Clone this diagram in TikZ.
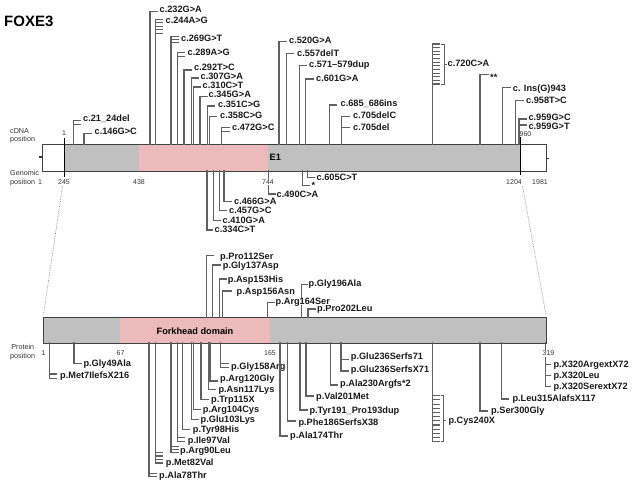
\documentclass[tikz,border=0pt]{standalone}
\usepackage{fontspec}
\setmainfont{Liberation Sans}
\newcommand{\Mut}[9]{\draw[mline] (#2,#3) -- (#2,#4);\foreach \t in {#5}{\draw[mline] (#2,\t) -- (#6,\t);}\node[mlab] (#1) at (#7,#8) {#9};}
\begin{document}
\begin{tikzpicture}[x=1pt,y=-1pt,
  mline/.style={draw=black!62, line width=1.1pt, line cap=rect},
  thinl/.style={draw=black!62, line width=0.6pt},
  mlab/.style={anchor=west, inner sep=0pt, text height=6.6pt, text depth=0pt, font=\bfseries\fontsize{9.2}{10}\selectfont, text=black!90},
  small/.style={inner sep=0pt, font=\fontsize{7}{8}\selectfont, text=black!80},
  sidelab/.style={anchor=north west, inner sep=0pt, align=left, font=\fontsize{7.2}{8.6}\selectfont, text=black!80},
  barline/.style={draw=black!75, line width=0.9pt},
  marker/.style={draw=black, line width=0.8pt},
  dotl/.style={draw=black!45, densely dotted, line width=0.7pt}]
\useasboundingbox (0,0) rectangle (635,488);
\definecolor{bargray}{RGB}{192,192,192}
\definecolor{barpink}{RGB}{236,186,186}
% title
\node[anchor=west, inner sep=0pt, font=\bfseries\fontsize{15}{16}\selectfont] (title) at (4,21.5) {FOXE3};
% side labels
\node[sidelab] (cdnal) at (10,128) {cDNA\\position};
\node[sidelab] (genl) at (10,170) {Genomic\\position};
\node[sidelab] (protl) at (10,344) {\,Protein\\position};
% cDNA bar
\fill[white] (42,144) rectangle (546,171);
\fill[bargray] (64,144) rectangle (521,171);
\fill[barpink] (139,144) rectangle (268,171);
\draw[barline] (42,144) rectangle (546,171);
\draw[marker] (64,138) -- (64,177);
\draw[marker] (520.7,137) -- (520.7,175);
\draw[draw=black!80, line width=1.6pt] (38.8,157) -- (41.5,157);
\draw[draw=black!80, line width=1.6pt] (546.8,158.5) -- (549.3,158.5);
\node[anchor=west, inner sep=0pt, font=\bfseries\fontsize{9.2}{10}\selectfont] (e1) at (269.5,157.5) {E1};
% numbers
\node[small] (n1c) at (64,133) {1};
\node[small, anchor=west] (n960) at (519.5,134.5) {960};
\node[small] (g1) at (40,182) {1};
\node[small] (g245) at (64,182) {245};
\node[small] (g438) at (139,182) {438};
\node[small] (g1204) at (514,182) {1204};
\node[small] (g1981) at (540,182) {1981};
% dotted lines
\coordinate (dl1) at (62.5,186);
\coordinate (dl2) at (43.5,315);
\coordinate (dr1) at (522.5,186);
\coordinate (dr2) at (546,315);
\draw[dotl] (dl1) -- (dl2);
\draw[dotl] (dr1) -- (dr2);
% protein bar
\fill[bargray] (43,317) rectangle (546,343);
\fill[barpink] (120,317) rectangle (270,343);
\draw[barline] (43,317) rectangle (546,343);
\node[font=\bfseries\fontsize{9.2}{10}\selectfont, inner sep=0pt] (fh) at (195,331.5) {Forkhead domain};
\node[small] (p1) at (43.5,353.5) {1};
\node[small] (p67) at (120.5,353.5) {67};
\node[small] (p165) at (270,353.5) {165};

% ---- cDNA mutations above
\Mut{a1}{73.3}{144}{120.7}{120.7,124.3}{80.5}{83}{118}{c.21\_24del}
\Mut{a2}{84}{144}{133.3}{133.3}{91.5}{94.5}{131.5}{c.146G>C}
\Mut{a3}{150}{144}{11.7}{11.7}{157}{159.5}{9.5}{c.232G>A}
\Mut{a4}{155.7}{144}{19.3}{19.3,22.8,26.3,29.8,33.3}{162.5}{165.5}{20}{c.244A>G}
\Mut{a5}{171}{144}{36.7}{36.7,39.7,42.7}{178}{181}{38}{c.269G>T}
\Mut{a6}{177.7}{144}{52.7}{52.7,56.7}{184.5}{187.5}{52.5}{c.289A>G}
\Mut{a7}{184}{144}{70}{70}{191}{194}{67.5}{c.292T>C}
\Mut{a8}{191.7}{144}{78}{78}{198.5}{200.5}{76}{c.307G>A}
\Mut{a9}{193.3}{144}{87}{87}{200}{202.5}{85}{c.310C>T}
\Mut{a10}{200}{144}{96.7}{96.7}{207}{208.5}{94.5}{c.345G>A}
\Mut{a11}{207.3}{144}{106}{106}{214.5}{218}{104.5}{c.351C>G}
\Mut{a12}{209.3}{144}{116.7}{116.7}{216.5}{220}{115.5}{c.358C>G}
\Mut{a13}{221.7}{144}{127.3}{127.3,131.7}{229}{232}{127}{c.472G>C}
\Mut{a14}{279}{144}{41.7}{41.7}{286}{289}{40.5}{c.520G>A}
\Mut{a15}{286.7}{144}{53.3}{53.3}{293.5}{297}{53}{c.557delT}
\Mut{a16}{299.3}{144}{65.7}{65.7}{306.5}{309}{64.5}{c.571--579dup}
\Mut{a17}{305.7}{144}{79}{79}{313}{316}{78.5}{c.601G>A}
\Mut{a18}{329.3}{144}{105}{105}{336.5}{340.5}{103.5}{c.685\_686ins}
\Mut{a19}{341.7}{144}{116.7}{116.7,127.3}{349}{353}{115}{c.705delC}
\node[mlab] (a20) at (353,126.7) {c.705del};
\Mut{a21}{480}{144}{74.3}{74.3}{488}{490}{77}{**}
\Mut{a22}{502.7}{144}{87.7}{87.7}{510}{512.7}{87.7}{c. Ins(G)943}
\Mut{a23}{515.7}{144}{100.7}{100.7}{523}{526}{100.5}{c.958T>C}
\Mut{a24}{519}{144}{119}{119,125}{526}{528.3}{117}{c.959G>C}
\node[mlab] (a25) at (528.3,125.8) {c.959G>T};
% c.720C>A ladder
\draw[mline] (432.3,144) -- (432.3,44);
\foreach \k in {0,...,11}{\draw[mline] (432.3,44+\k*3.636) -- (439.3,44+\k*3.636);}
\draw[thinl] (441,44) -- (444,44) -- (444,84) -- (441,84);
\draw[thinl] (444,64) -- (446.5,64);
\node[mlab] (a26) at (447.5,63.5) {c.720C>A};

% ---- cDNA mutations below
\Mut{b1}{207}{171}{230}{230}{212.5}{214.5}{229.5}{c.334C>T}
\Mut{b2}{213.3}{171}{220.7}{220.7}{220}{222.5}{220.3}{c.410G>A}
\Mut{b3}{219.3}{171}{210.7}{210.7}{226.5}{229}{210.5}{c.457G>C}
\Mut{b4}{224}{171}{201.7}{201.7}{231.5}{234}{201.5}{c.466G>A}
\Mut{b5}{268.3}{171}{194}{194}{275}{276.5}{194.3}{c.490C>A}
\Mut{b6}{302.5}{171}{185.5}{185.5}{309}{311.5}{185}{*}
\Mut{b7}{307.5}{171}{177.5}{177.5}{314}{316.5}{177.5}{c.605C>T}
\node[small, fill=white, inner sep=0.8pt] (g744) at (268,182) {744};

% ---- protein mutations above
\Mut{c1}{206.5}{317}{255.5}{255.5}{213.5}{220}{256.5}{p.Pro112Ser}
\Mut{c2}{212.7}{317}{265}{265}{220}{222.7}{265}{p.Gly137Asp}
\Mut{c3}{219.3}{317}{279}{279}{226}{227.7}{279}{p.Asp153His}
\Mut{c4}{222.7}{317}{291}{291}{231.5}{236.5}{291}{p.Asp156Asn}
\Mut{c6}{301.3}{317}{284.5}{284.5}{307.5}{308.5}{283.5}{p.Gly196Ala}
\Mut{c7}{308}{317}{309}{309}{315}{317}{308.5}{p.Pro202Leu}
\draw[mline] (267.3,317) -- (267.3,302.7) -- (274,302.7);
\node[mlab, fill=white] (c5) at (275.5,301.5) {p.Arg164Ser};

% ---- protein mutations below
\Mut{d1}{49.3}{343}{378.3}{374,378.3}{56.5}{60}{375.5}{p.Met7IlefsX216}
\Mut{d2}{74}{343}{363.3}{363.3}{81}{83.3}{362.7}{p.Gly49Ala}
\Mut{d3}{149}{343}{476.7}{473.3,476.7}{156}{159}{475.5}{p.Ala78Thr}
\Mut{d4}{155.7}{343}{463}{452.7,456,459.5,463}{162.5}{165.7}{462.3}{p.Met82Val}
\Mut{d5}{171}{343}{452.7}{446.7,449.7,452.7}{178}{180}{450}{p.Arg90Leu}
\Mut{d6}{177.7}{343}{441.7}{437.7,441.7}{184.5}{187.7}{440}{p.Ile97Val}
\Mut{d7}{182.7}{343}{429.3}{429.3}{189.5}{192.7}{429.3}{p.Tyr98His}
\Mut{d8}{191.7}{343}{419.3}{419.3}{198.5}{200.5}{419.3}{p.Glu103Lys}
\Mut{d9}{193.3}{343}{409.3}{409.3}{200}{202.7}{409.3}{p.Arg104Cys}
\Mut{d10}{201}{343}{399.3}{399.3}{208}{211}{399.3}{p.Trp115X}
\Mut{d11}{208.3}{343}{389.3}{389.3}{215}{218.3}{389.3}{p.Asn117Lys}
\Mut{d12}{210}{343}{381}{381}{217}{220}{378.5}{p.Arg120Gly}
\Mut{d13}{220.7}{343}{367.7}{363.3,367.7}{228}{231}{365.7}{p.Gly158Arg}
\Mut{d14}{280}{343}{436}{436}{287.5}{290}{435}{p.Ala174Thr}
\Mut{d15}{287.3}{343}{421}{421}{295}{298.3}{422.5}{p.Phe186SerfsX38}
\Mut{d16}{300}{343}{410}{410}{307}{309.3}{410}{p.Tyr191\_Pro193dup}
\Mut{d17}{306}{343}{396}{396}{313}{316}{396}{p.Val201Met}
\Mut{d18}{330.7}{343}{385}{385}{337.5}{340}{383.5}{p.Ala230Argfs*2}
\Mut{d19}{341}{343}{371}{359.3,371}{348}{350.7}{356.5}{p.Glu236Serfs71}
\node[mlab] (d20) at (350.7,369.5) {p.Glu236SerfsX71};
\Mut{d21}{480}{343}{411}{411}{487}{491}{410.5}{p.Ser300Gly}
\Mut{d22}{501.7}{343}{399}{399}{508.5}{512.3}{398.5}{p.Leu315AlafsX117}
\Mut{d23}{545.7}{343}{386.7}{364.5,375.5,386.7}{550.5}{553.3}{364.3}{p.X320ArgextX72}
\node[mlab] (d24) at (553.3,375.3) {p.X320Leu};
\node[mlab] (d25) at (553.3,386.5) {p.X320SerextX72};
\node[small, fill=white, inner sep=0.8pt] (p319) at (548.5,353.5) {319};
% p.Cys240X ladder
\draw[mline] (432.7,343) -- (432.7,441.7);
\foreach \k in {0,...,11}{\draw[mline] (432.7,395.7+\k*4.18) -- (439.8,395.7+\k*4.18);}
\draw[thinl] (441.3,395.7) -- (443.5,395.7) -- (443.5,441.7) -- (441.3,441.7);
\draw[thinl] (443.5,420.5) -- (446.3,420.5);
\node[mlab] (d26) at (448.3,420.5) {p.Cys240X};
\end{tikzpicture}
\end{document}
